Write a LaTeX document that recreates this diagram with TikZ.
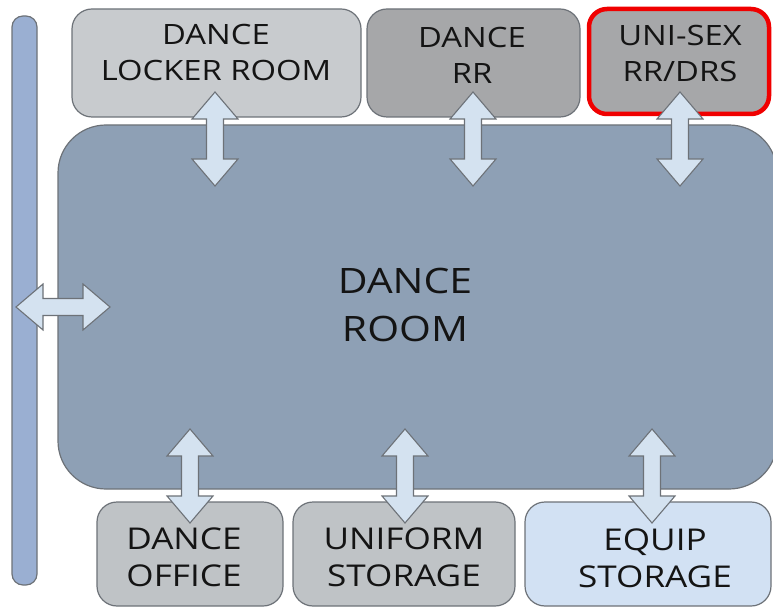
\documentclass[tikz,border=0pt]{standalone}
\usepackage{fontspec}
\newfontfamily\lblfont[FakeStretch=1.17]{Open Sans}
\definecolor{cLocker}{HTML}{C8CBCE}
\definecolor{cDark}{HTML}{A6A7A9}
\definecolor{cRoom}{HTML}{8EA0B5}
\definecolor{cLow}{HTML}{BFC3C6}
\definecolor{cEquip}{HTML}{D2E1F3}
\definecolor{cBar}{HTML}{9AAFD2}
\definecolor{cArrow}{HTML}{D4E2F0}
\definecolor{cEdge}{HTML}{6D7278}
\definecolor{cText}{HTML}{141414}
\definecolor{cRed}{HTML}{F00000}
\tikzset{
  box/.style={draw=cEdge, line width=1.2pt, rounded corners=20pt},
  lbl/.style={inner sep=0pt, align=center, text=cText},
  small/.style={lbl, font=\lblfont\fontsize{28}{36}\selectfont},
  low/.style={lbl, font=\lblfont\fontsize{30}{37}\selectfont},
  big/.style={lbl, font=\lblfont\fontsize{35}{48}\selectfont},
  arrowsty/.style={draw=cEdge, line width=1.1pt, fill=cArrow, line join=miter},
  dblarrow/.pic={
    \draw[arrowsty] (0,-47) -- (23,-20) -- (8.5,-20) -- (8.5,20) -- (23,20)
      -- (0,47) -- (-23,20) -- (-8.5,20) -- (-8.5,-20) -- (-23,-20) -- cycle;
  }
}
\begin{document}
\begin{tikzpicture}[x=1pt,y=-1pt]
\useasboundingbox (0,0) rectangle (773,609);
% side bar
\draw[box, fill=cBar, rounded corners=11pt] (12,16) rectangle (37,585);
% top rooms
\draw[box, fill=cLocker] (72,9) rectangle (361,117);
\draw[box, fill=cDark] (367,9) rectangle (580,117);
\draw[fill=cDark, draw=cRed, line width=4.5pt, rounded corners=18pt] (589,9) rectangle (769,114);
% main room
\draw[box, fill=cRoom, rounded corners=48pt] (58,125) rectangle (777,489);
% bottom rooms
\draw[box, fill=cLow] (97,502) rectangle (283,606);
\draw[box, fill=cLow] (293,502) rectangle (515,606);
\draw[box, fill=cEquip] (525,502) rectangle (771,606);
% labels
\node[small] (locker) at (216,52.5) {DANCE\\LOCKER ROOM};
\node[small] (rr) at (472,55) {DANCE\\RR};
\node[small] (unisex) at (680,54) {UNI-SEX\\RR/DRS};
\node[big] (room) at (405,304.5) {DANCE\\ROOM};
\node[low] (office) at (184,557.5) {DANCE\\OFFICE};
\node[low] (uniform) at (404,557.5) {UNIFORM\\STORAGE};
\node[low] (equip) at (655,558) {EQUIP\\STORAGE};
% arrows
\pic at (215,139) {dblarrow};
\pic at (473,139) {dblarrow};
\pic at (680,139) {dblarrow};
\pic at (190,476) {dblarrow};
\pic at (405,476) {dblarrow};
\pic at (652,476) {dblarrow};
\pic[rotate=90] at (63,307) {dblarrow};
\end{tikzpicture}
\end{document}
